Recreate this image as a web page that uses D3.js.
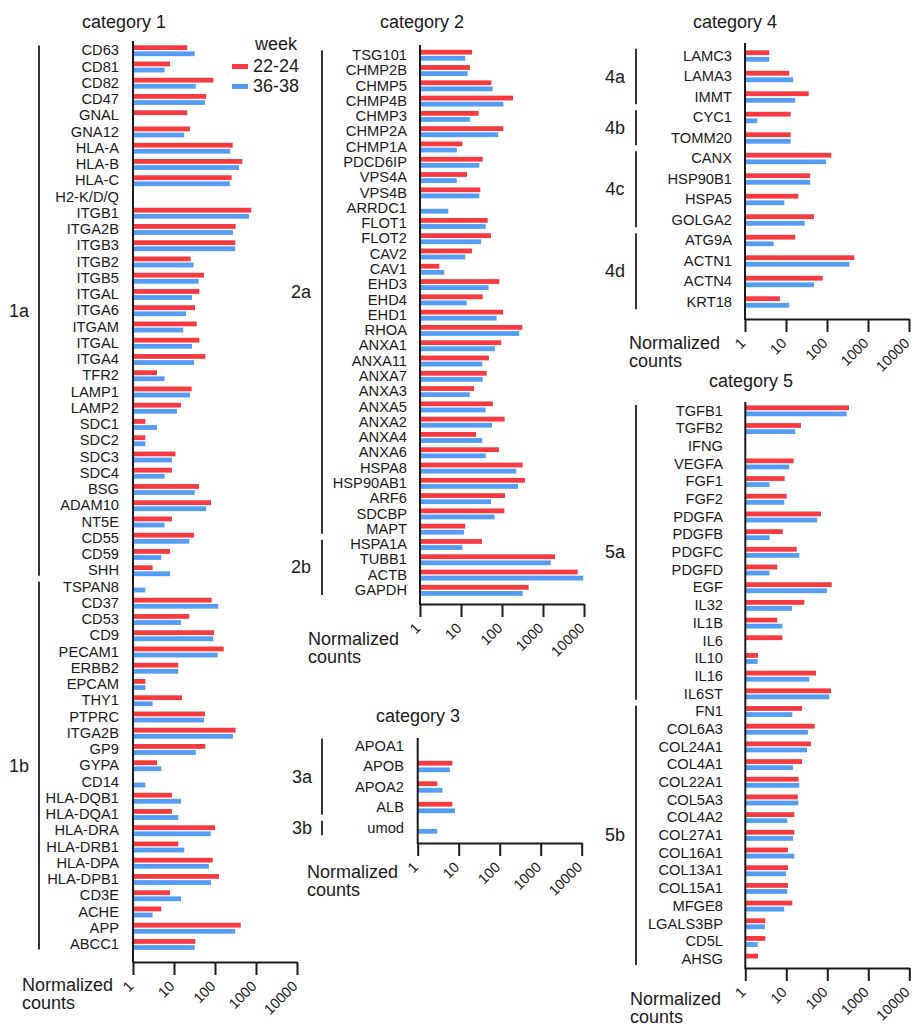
<!DOCTYPE html>
<html><head><meta charset="utf-8">
<script src="https://cdn.jsdelivr.net/npm/d3@7"></script>
<style>
body{margin:0;background:#fff;}
svg{display:block;font-family:"Liberation Sans",Arial,Helvetica,sans-serif;}
</style></head><body>
<svg id="chart" width="914" height="1027"></svg>
<script>
// ---------- data ----------
const seriesNames = ["22-24", "36-38"];
const tickValues = [1, 10, 100, 1000, 10000];
const tickLabels = ["1", "10", "100", "1000", "10000"];

const cat1Genes = ["CD63","CD81","CD82","CD47","GNAL","GNA12","HLA-A","HLA-B","HLA-C","H2-K/D/Q","ITGB1","ITGA2B","ITGB3","ITGB2","ITGB5","ITGAL","ITGA6","ITGAM","ITGAL","ITGA4","TFR2","LAMP1","LAMP2","SDC1","SDC2","SDC3","SDC4","BSG","ADAM10","NT5E","CD55","CD59","SHH","TSPAN8","CD37","CD53","CD9","PECAM1","ERBB2","EPCAM","THY1","PTPRC","ITGA2B","GP9","GYPA","CD14","HLA-DQB1","HLA-DQA1","HLA-DRA","HLA-DRB1","HLA-DPA","HLA-DPB1","CD3E","ACHE","APP","ABCC1"];
const cat1Week2224 = [21,8,91,61,21,24.6,270,463,255,0,768,318,313,25.5,54,41.5,32.5,35.7,41.5,58,3.85,27,14.8,2.0,2.0,10.8,8.9,40.7,80,8.9,31,8,3.0,0,83,23.6,95,163,12.7,2.0,15.7,57,318,58,3.85,0,8.9,8.9,100,12.7,88,125,8,4.9,424,33];
const cat1Week3638 = [32,5.9,34,57,0,17.8,233,385,229,0,673,273,313,30,40,27.5,19.6,16.8,27.5,31,5.9,24.6,11.8,3.85,2.0,8.9,5.9,32,61,5.9,23.6,4.9,8,2.0,120,14.8,91,116,12.7,2.0,3.0,54,273,34,4.9,2.0,14.8,12.7,78.5,17.8,71,80,14.8,3.0,309,32];
const cat1Groups = ["1a","1b"];
const cat1GroupSizes = [33, 23];

const cat2Genes = ["TSG101","CHMP2B","CHMP5","CHMP4B","CHMP3","CHMP2A","CHMP1A","PDCD6IP","VPS4A","VPS4B","ARRDC1","FLOT1","FLOT2","CAV2","CAV1","EHD3","EHD4","EHD1","RHOA","ANXA1","ANXA11","ANXA7","ANXA3","ANXA5","ANXA2","ANXA4","ANXA6","HSPA8","HSP90AB1","ARF6","SDCBP","MAPT","HSPA1A","TUBB1","ACTB","GAPDH"];
const cat2Week2224 = [18.6,16.5,55,186,27,108,10.8,33.8,14,29.6,0,44.8,54,18.6,2.96,86,33.8,106,313,96,48,42.4,20.8,60,116,23.2,84,320,363,118,114,12.7,32.5,1960,7000,447];
const cat2Week3638 = [12.7,14.5,59,108,16.5,81,7.9,28,7.9,28,4.9,40,31,12.7,3.9,47,13.8,74,264,67,33,33.8,16.3,40,57,33,40,223,246,54,66,11.8,10.8,1540,9600,320];
const cat2Groups = ["2a","2b"];
const cat2GroupSizes = [32, 4];

const cat3Genes = ["APOA1","APOB","APOA2","ALB","umod"];
const cat3Week2224 = [0,7.0,3.0,7.0,0];
const cat3Week3638 = [0,6.1,4.0,8.1,3.0];
const cat3Groups = ["3a","3b"];
const cat3GroupSizes = [4, 1];

const cat4Genes = ["LAMC3","LAMA3","IMMT","CYC1","TOMM20","CANX","HSP90B1","HSPA5","GOLGA2","ATG9A","ACTN1","ACTN4","KRT18"];
const cat4Week2224 = [3.9,12,35.7,13,13,127,39,20,48,16.8,463,78.5,7.1];
const cat4Week3638 = [3.9,14.8,16.8,2.0,13,95,39,9.1,28.6,5.0,350,48,12];
const cat4Groups = ["4a","4b","4c","4d"];
const cat4GroupSizes = [3, 2, 4, 4];

const cat5Genes = ["TGFB1","TGFB2","IFNG","VEGFA","FGF1","FGF2","PDGFA","PDGFB","PDGFC","PDGFD","EGF","IL32","IL1B","IL6","IL10","IL16","IL6ST","FN1","COL6A3","COL24A1","COL4A1","COL22A1","COL5A3","COL4A2","COL27A1","COL16A1","COL13A1","COL15A1","MFGE8","LGALS3BP","CD5L","AHSG"];
const cat5Week2224 = [338,22.8,0,15.1,9.1,10.2,70,8.2,17.9,6.0,128,27.5,6.0,8.0,2.04,53,123,24.2,49.3,40,24.2,20,19,15.7,15.7,11,11,11,14,3.07,3.07,2.04];
const cat5Week3638 = [297,16.6,0,11.8,3.9,8.9,57,3.9,20.8,3.9,98,13.8,8.0,0,2.0,36.3,112,14,33.7,32,14.5,20.8,19.6,10.6,14.5,15.7,9.8,10.6,8.9,3.0,2.0,0];
const cat5Groups = ["5a","5b"];
const cat5GroupSizes = [17, 15];

// ---------- style ----------
const colors = ["#F53B3F", "#559DF2"];
const ink = "#1a1a1a";
const svg = d3.select("#chart");

function panel(L, title, genes, s1, s2, groups, sizes) {
  const g = svg.append("g");
  const x = d3.scaleLog().domain([1, 10000]).range([L.axisX, L.axisX + 164]);
  const y = d3.scaleBand().domain(d3.range(genes.length)).range([L.bandTop, L.bandBottom]);
  const step = y.step();
  const barH = 4.8, gap = step > 18 ? 1.8 : 1.3;

  const bars = [];
  genes.forEach((n, i) => {
    if (s1[i] > 0) bars.push({ i, v: s1[i], k: 0 });
    if (s2[i] > 0) bars.push({ i, v: s2[i], k: 1 });
  });
  g.append("g").selectAll("rect").data(bars).join("rect")
    .attr("x", x(1))
    .attr("width", d => x(d.v) - x(1))
    .attr("y", d => y(d.i) + step / 2 + (d.k === 0 ? -gap / 2 - barH : gap / 2))
    .attr("height", barH)
    .attr("fill", d => colors[d.k]);

  // category labels (left axis)
  const ya = g.append("g").attr("transform", `translate(${L.axisX},0)`)
    .call(d3.axisLeft(y).tickSize(0).tickPadding(L.axisX - L.labelX).tickFormat(i => genes[i]));
  ya.select(".domain").remove();
  ya.selectAll("text").attr("font-size", 14.7).attr("fill", ink).attr("font-family", null);

  // vertical axis line
  g.append("line").attr("x1", L.axisX).attr("x2", L.axisX)
    .attr("y1", L.axisTop).attr("y2", L.axisY + 1)
    .attr("stroke", ink).attr("stroke-width", 2);

  // bottom axis
  const xa = g.append("g").attr("transform", `translate(0,${L.axisY})`)
    .call(d3.axisBottom(x).tickValues(tickValues).tickFormat((d, i) => tickLabels[i]).tickSize(13).tickSizeOuter(0));
  xa.select(".domain").attr("stroke", ink).attr("stroke-width", 2);
  xa.selectAll(".tick line").attr("stroke", ink).attr("stroke-width", 2);
  xa.selectAll("text")
    .attr("x", null).attr("y", null).attr("dy", null)
    .attr("text-anchor", "end")
    .attr("transform", "translate(1,25) rotate(-45)")
    .attr("font-size", 14.5).attr("fill", ink).attr("font-family", null);

  // group brackets
  let start = 0;
  groups.forEach((name, gi) => {
    const y1 = y(start) + 3;
    const y2 = y(start + sizes[gi] - 1) + step - 3;
    g.append("line").attr("x1", L.bracketX).attr("x2", L.bracketX)
      .attr("y1", y1).attr("y2", y2).attr("stroke", "#333").attr("stroke-width", 2);
    g.append("text").attr("x", L.groupX).attr("y", (y1 + y2) / 2)
      .attr("text-anchor", "middle").attr("dominant-baseline", "central")
      .attr("font-size", 18).attr("fill", ink).text(name);
    start += sizes[gi];
  });

  // title
  g.append("text").attr("x", L.titleX).attr("y", L.titleY).attr("text-anchor", "middle")
    .attr("font-size", 18).attr("fill", ink).text(title);

  // x axis title
  const t = g.append("text").attr("font-size", 18).attr("fill", ink);
  t.append("tspan").attr("x", L.normX).attr("y", L.normY).text("Normalized");
  t.append("tspan").attr("x", L.normX).attr("y", L.normY + 18).text("counts");
}

panel({axisX:133, axisTop:41, axisY:962, bandTop:42.6, bandBottom:952.6, labelX:119, bracketX:39, groupX:19, titleX:124, titleY:28, normX:22, normY:991},
  "category 1", cat1Genes, cat1Week2224, cat1Week3638, cat1Groups, cat1GroupSizes);
panel({axisX:420, axisTop:45, axisY:604, bandTop:47.6, bandBottom:598, labelX:407, bracketX:322, groupX:301, titleX:422, titleY:28, normX:308, normY:645},
  "category 2", cat2Genes, cat2Week2224, cat2Week3638, cat2Groups, cat2GroupSizes);
panel({axisX:417.7, axisTop:738, axisY:843, bandTop:735.75, bandBottom:838.25, labelX:404, bracketX:322, groupX:302, titleX:418, titleY:722, normX:307, normY:878},
  "category 3", cat3Genes, cat3Week2224, cat3Week3638, cat3Groups, cat3GroupSizes);
panel({axisX:745, axisTop:43, axisY:319, bandTop:45.75, bandBottom:312.25, labelX:732, bracketX:636, groupX:615, titleX:735, titleY:28, normX:629, normY:349},
  "category 4", cat4Genes, cat4Week2224, cat4Week3638, cat4Groups, cat4GroupSizes);
panel({axisX:745.3, axisTop:402, axisY:968, bandTop:402, bandBottom:968, labelX:723, bracketX:636, groupX:615, titleX:751, titleY:387, normX:630, normY:1005},
  "category 5", cat5Genes, cat5Week2224, cat5Week3638, cat5Groups, cat5GroupSizes);

// legend
const lg = svg.append("g");
lg.append("text").attr("x", 255).attr("y", 50).attr("font-size", 18).attr("fill", ink).text("week");
seriesNames.forEach((s, i) => {
  lg.append("rect").attr("x", 232).attr("y", 64 + i * 20).attr("width", 16).attr("height", 5).attr("fill", colors[i]);
  lg.append("text").attr("x", 253).attr("y", 72 + i * 20).attr("font-size", 18).attr("fill", ink).text(s);
});
</script>
</body></html>
